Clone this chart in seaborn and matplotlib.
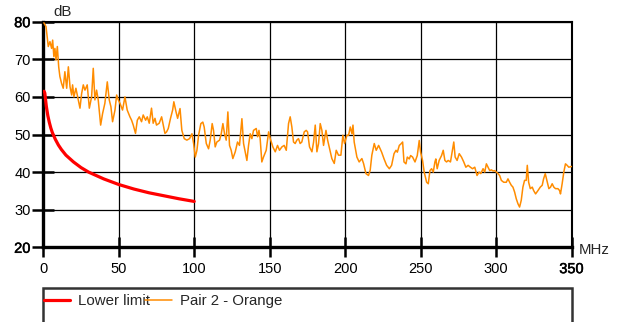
import matplotlib
matplotlib.use("Agg")
import matplotlib.pyplot as plt
import matplotlib.patheffects as pe
from matplotlib.patches import Rectangle
import seaborn as sns
import pandas as pd

# ---- data ----
limit_freq = [0.5, 1, 2, 3, 4, 5, 6, 8, 10, 12, 15, 20, 25, 30, 40, 50, 60, 70, 80, 90, 100]
limit_db = [61.5, 61.0, 57.5, 55.0, 53.2, 51.7, 50.5, 48.7, 47.2, 46.0, 44.5, 42.7, 41.2, 40.0,
            38.2, 36.7, 35.5, 34.5, 33.7, 32.9, 32.2]

pair_freq = [0.4, 1.8, 2.6, 3.3, 4.4, 5.5, 6.2, 7.0, 7.7, 8.4, 9.3, 10.2, 11.0, 12.1, 13.2,
             14.3, 15.5, 16.6, 17.7, 18.8, 19.4, 20.3, 21.6, 23.2, 24.3, 25.4, 26.5, 27.6,
             29.1, 30.5, 32.0, 33.1, 34.2, 35.3, 36.4, 38.0, 39.3, 40.8, 42.4, 43.7, 44.8,
             45.9, 47.5, 48.6, 49.7, 50.8, 52.5, 54.1, 55.6, 57.4, 58.5, 59.6, 61.1, 62.3,
             63.6, 65.1, 66.2, 67.8, 68.9, 70.2, 71.7, 72.8, 74.0, 75.0, 76.8, 78.4, 79.5,
             80.6, 81.7, 82.8, 84.3, 85.7, 86.5, 87.9, 89.0, 90.6, 91.8, 93.4, 95.1, 96.9,
             98.5, 99.6, 100.7, 101.8, 102.9, 104.4, 105.7, 106.6, 108.0, 109.5, 110.6,
             111.9, 112.8, 113.9, 115.0, 116.8, 117.9, 119.0, 120.1, 121.2, 122.3, 123.4,
             124.5, 125.6, 127.2, 128.7, 130.0, 131.6, 132.7, 133.8, 134.9, 136.0, 137.1,
             138.2, 139.3, 141.1, 142.0, 142.9, 143.7, 144.8, 145.9, 147.7, 149.3, 150.4,
             152.1, 153.7, 155.2, 156.5, 158.1, 159.6, 161.0, 162.5, 163.6, 164.7, 165.8,
             166.9, 168.0, 169.1, 170.2, 171.3, 172.9, 174.2, 175.1, 176.4, 178.0, 179.1,
             180.2, 181.3, 182.4, 183.5, 184.6, 185.7, 187.3, 188.4, 189.7, 191.2, 192.8,
             194.1, 195.6, 197.2, 198.5, 199.6, 201.2, 202.3, 203.4, 204.5, 205.2, 206.0,
             207.8, 209.3, 211.1, 212.2, 213.8, 215.5, 216.6, 217.7, 219.3, 220.6, 222.2,
             224.2, 225.8, 227.5, 229.3, 230.8, 232.4, 233.7, 234.6, 235.9, 237.0, 238.1,
             239.0, 240.3, 241.2, 242.5, 243.4, 244.7, 246.3, 247.8, 249.1, 250.0, 251.3,
             252.4, 254.0, 255.1, 256.2, 257.3, 258.4, 259.5, 260.1, 261.0, 262.3, 263.9,
             265.0, 266.1, 267.2, 268.3, 269.8, 271.1, 272.0, 272.9, 274.2, 275.6, 277.1,
             278.6, 280.0, 281.5, 283.0, 284.4, 285.9, 287.4, 288.8, 289.9, 291.4, 292.5,
             293.6, 294.7, 295.8, 296.9, 298.0, 299.1, 300.2, 301.3, 302.4, 303.5, 305.1,
             306.8, 307.9, 309.0, 310.1, 311.2, 312.3, 313.4, 314.5, 315.6, 316.7, 317.8,
             318.9, 320.0, 320.7, 321.6, 322.7, 324.0, 324.9, 326.2, 327.8, 329.3, 330.6,
             331.5, 332.6, 333.7, 335.0, 336.1, 337.2, 338.3, 339.4, 341.0, 342.1, 342.7,
             343.8, 344.9, 346.0, 347.1, 348.2, 350.0]
pair_db = [79.7, 78.7, 76.0, 73.4, 74.7, 72.9, 75.1, 70.7, 72.9, 69.8, 73.4, 68.0, 65.4, 63.6,
           62.3, 66.7, 62.3, 68.0, 62.7, 60.5, 63.2, 60.0, 62.3, 59.2, 57.0, 60.9, 63.2, 61.8,
           63.2, 57.0, 60.0, 67.6, 59.2, 61.8, 59.2, 52.5, 55.6, 58.3, 64.0, 59.2, 57.4, 53.4,
           56.5, 60.5, 59.2, 58.3, 56.5, 60.0, 56.5, 54.7, 53.8, 52.5, 50.3, 53.8, 54.7, 53.4,
           55.2, 53.8, 54.7, 53.0, 57.0, 53.0, 54.3, 52.5, 53.0, 54.7, 52.5, 50.3, 50.7, 51.6,
           54.3, 56.5, 58.7, 56.1, 54.3, 56.9, 51.1, 48.9, 48.5, 48.9, 50.2, 47.6, 44.0, 45.8,
           49.8, 52.9, 53.3, 52.0, 47.6, 46.2, 48.5, 52.9, 51.1, 46.7, 48.0, 48.5, 50.2, 52.9,
           50.2, 48.5, 56.0, 47.1, 45.8, 43.6, 45.4, 48.0, 47.1, 54.2, 47.6, 45.4, 43.1, 47.1,
           50.2, 48.9, 51.1, 51.6, 49.4, 51.1, 48.9, 42.7, 44.0, 45.8, 50.7, 48.9, 46.7, 45.4,
           47.1, 45.8, 46.7, 47.1, 45.8, 52.9, 54.7, 52.0, 48.0, 47.6, 48.5, 48.9, 47.6, 48.0,
           50.7, 51.1, 50.7, 46.7, 45.4, 48.0, 52.5, 45.4, 47.6, 52.9, 51.1, 47.1, 51.1, 48.5,
           46.2, 43.6, 42.3, 45.8, 44.5, 44.5, 49.8, 47.6, 49.8, 49.8, 52.0, 50.2, 52.5, 48.0,
           44.0, 42.7, 43.6, 42.3, 39.6, 39.1, 40.5, 44.5, 47.6, 45.8, 47.1, 45.3, 43.5, 41.8,
           40.9, 41.8, 44.9, 45.8, 45.3, 47.1, 47.5, 48.0, 42.7, 42.2, 44.0, 43.5, 44.4, 44.0,
           42.7, 44.4, 48.4, 45.3, 43.1, 40.0, 37.3, 36.9, 40.4, 40.9, 40.0, 42.7, 43.5, 40.9,
           43.1, 44.4, 45.8, 43.1, 42.7, 43.1, 42.7, 45.8, 48.0, 44.0, 43.1, 44.9, 44.0, 42.7,
           41.3, 41.8, 41.3, 40.9, 41.3, 39.1, 40.0, 39.6, 40.9, 40.0, 42.2, 41.3, 40.4, 40.6,
           40.3, 40.4, 40.0, 39.6, 39.1, 37.8, 37.3, 37.3, 38.2, 37.3, 36.5, 36.0, 34.7, 32.9,
           31.6, 30.7, 32.5, 36.0, 37.8, 37.8, 41.8, 37.3, 35.6, 36.0, 35.1, 34.2, 35.1, 36.0,
           36.5, 38.2, 39.6, 37.8, 35.6, 36.0, 36.9, 36.0, 35.6, 35.6, 35.1, 34.2, 36.9, 40.0,
           42.2, 41.8, 41.3, 41.5]

x_ticks = [0, 50, 100, 150, 200, 250, 300, 350]
y_ticks = [20, 30, 40, 50, 60, 70, 80]

# ---- style ----
sns.set_style("white")
plt.rcParams["font.family"] = ["Liberation Sans", "DejaVu Sans"]

W, H = 628, 322
fig = plt.figure(figsize=(W / 100, H / 100), dpi=100)
L, R, T, B = 43.3, 571.5, 21.7, 247.3
ax = fig.add_axes([L / W, 1 - B / H, (R - L) / W, (B - T) / H])

df_limit = pd.DataFrame({"MHz": limit_freq, "dB": limit_db})
df_pair = pd.DataFrame({"MHz": pair_freq, "dB": pair_db})

sns.lineplot(data=df_limit, x="MHz", y="dB", ax=ax, color="#ff0000", lw=2.3,
             label="Lower limit", zorder=4)
sns.lineplot(data=df_pair, x="MHz", y="dB", ax=ax, color="#ff8c00", lw=1.1,
             label="Pair 2 - Orange", zorder=5)

ax.set_xlim(0, 350)
ax.set_ylim(20, 80)
ax.set_xticks(x_ticks)
ax.set_yticks(y_ticks)
ax.set_xlabel("")
ax.set_ylabel("")
ax.grid(True, color="black", lw=0.9)
ax.set_axisbelow(True)

for side in ["left", "bottom"]:
    ax.spines[side].set_linewidth(2.4)
    ax.spines[side].set_color("black")
for side in ["top", "right"]:
    ax.spines[side].set_linewidth(1.5)
    ax.spines[side].set_color("black")
    ax.spines[side].set_visible(True)

ax.tick_params(axis="y", direction="inout", length=16, width=1.8, pad=1.2,
               labelsize=10.5, colors="black", left=True)
ax.tick_params(axis="x", direction="inout", length=15, width=1.8, pad=3.2,
               labelsize=10.5, colors="black", bottom=True)

heavy = [pe.withStroke(linewidth=0.35, foreground="black")]
for lab in ax.get_yticklabels():
    if lab.get_text() in ("20", "80"):
        lab.set_path_effects(heavy)
for lab in ax.get_xticklabels():
    if lab.get_text() in ("350",):
        lab.set_path_effects(heavy)

fig.text(53 / W, 1 - 12 / H, "dB", fontsize=10.8, ha="left", va="center")
fig.text(579 / W, 1 - 250 / H, "MHz", fontsize=10.8, ha="left", va="center")

# legend
handles, labels = ax.get_legend_handles_labels()
ax.get_legend().remove()
fig.patches.append(Rectangle((L / W - 0.001, -0.2), (R - L) / W + 0.002,
                             1 - 287.5 / H + 0.2, transform=fig.transFigure,
                             fill=False, edgecolor="#333333", lw=1.8))
fig.legend(handles, labels, loc="center left", bbox_to_anchor=(44 / W, 1 - 301 / H),
           ncol=2, frameon=False, fontsize=10.8, handlelength=1.75,
           handletextpad=0.55, columnspacing=-0.35, borderaxespad=0, borderpad=0)

fig.savefig("out.png", dpi=100, facecolor="white")
